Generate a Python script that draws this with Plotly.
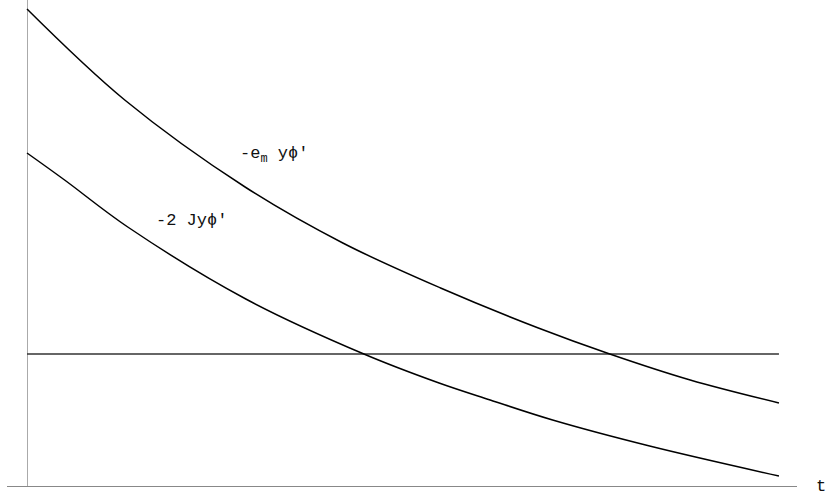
import plotly.graph_objects as go

# Curve samples: time t and the two terms of the torque balance
t_em = [0, 1.3, 2.9, 4.2, 5.5, 6.8, 7.75, 8.82, 10]
y_em = [3.45, 2.54, 1.67, 1.11, 0.66, 0.26, 0.0, -0.26, -0.49]

t_j = [0, 0.5, 1.34, 2.91, 4.48, 5.48, 6.16, 6.99, 8.28, 10]
y_j = [2.01, 1.74, 1.27, 0.55, 0.0, -0.29, -0.46, -0.66, -0.92, -1.22]

t_zero = [0, 10]
y_zero = [0, 0]

label_em = "-e<sub>m</sub> yϕ′"
label_j = "-2 Jyϕ′"
axis_label = "t"

fig = go.Figure()
fig.add_trace(go.Scatter(x=t_zero, y=y_zero, mode="lines",
                         line=dict(color="#333333", width=1.5), hoverinfo="skip"))
fig.add_trace(go.Scatter(x=t_em, y=y_em, mode="lines", line_shape="spline",
                         line=dict(color="black", width=1.5), hoverinfo="skip"))
fig.add_trace(go.Scatter(x=t_j, y=y_j, mode="lines", line_shape="spline",
                         line=dict(color="black", width=1.5), hoverinfo="skip"))

font = dict(family="Liberation Mono, DejaVu Sans Mono, monospace", size=17, color="#111111")
fig.add_annotation(x=3.28, y=1.99, text=label_em, showarrow=False, font=font)
fig.add_annotation(x=2.19, y=1.34, text=label_j, showarrow=False, font=font)
fig.add_annotation(x=1.039, xref="paper", y=-1.32, yref="y", text=axis_label,
                   showarrow=False, font=font, yanchor="middle")

fig.update_layout(
    width=835, height=497,
    margin=dict(l=7, r=38, t=0, b=11),
    paper_bgcolor="white", plot_bgcolor="white",
    showlegend=False,
    xaxis=dict(range=[-0.266, 10.24], showgrid=False, showticklabels=False, ticks="",
               zeroline=True, zerolinecolor="#aaaaaa", zerolinewidth=1,
               showline=True, linecolor="#888888", linewidth=1, mirror=False),
    yaxis=dict(range=[-1.32, 3.54], showgrid=False, showticklabels=False, ticks="",
               zeroline=False, showline=False),
)

fig.write_html("out.html")
